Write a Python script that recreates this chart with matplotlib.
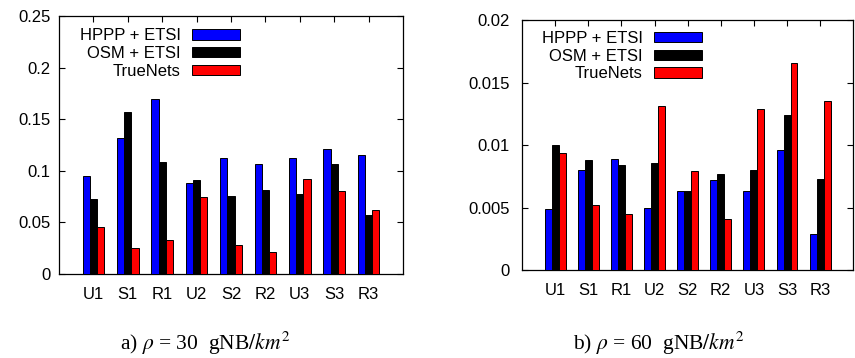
import matplotlib
matplotlib.use("Agg")
import matplotlib.pyplot as plt
import numpy as np

categories = ["U1", "S1", "R1", "U2", "S2", "R2", "U3", "S3", "R3"]
series_names = ["HPPP + ETSI", "OSM + ETSI", "TrueNets"]
colors = ["#0000ff", "#000000", "#ff0000"]

a_hppp = [0.095, 0.132, 0.170, 0.088, 0.112, 0.107, 0.112, 0.121, 0.115]
a_osm = [0.073, 0.157, 0.109, 0.091, 0.076, 0.081, 0.078, 0.107, 0.057]
a_true = [0.046, 0.025, 0.033, 0.075, 0.028, 0.021, 0.092, 0.080, 0.062]

b_hppp = [0.0049, 0.0080, 0.0089, 0.0050, 0.0063, 0.0072, 0.0063, 0.0096, 0.0029]
b_osm = [0.0100, 0.0088, 0.0084, 0.0086, 0.0063, 0.0077, 0.0080, 0.0124, 0.0073]
b_true = [0.0094, 0.0052, 0.0045, 0.0131, 0.0079, 0.0041, 0.0129, 0.0166, 0.0135]

a_yticks = [0, 0.05, 0.1, 0.15, 0.2, 0.25]
b_yticks = [0, 0.005, 0.01, 0.015, 0.02]

captions = [r"a) $\rho$ = 30  gNB$/km^2$", r"b) $\rho$ = 60  gNB$/km^2$"]

plt.rcParams['font.family'] = ['Liberation Sans', 'DejaVu Sans']
plt.rcParams['mathtext.fontset'] = 'stix'

FS = 12

fig = plt.figure(figsize=(8.55, 3.58), dpi=100)
ax1 = fig.add_axes([0.069, 0.2346, 0.4023, 0.7207])
ax2 = fig.add_axes([0.6105, 0.2458, 0.3875, 0.6983])

def draw(ax, data, yticks, ymax, legpos, ypad):
    x = np.arange(len(categories))
    w = 0.21
    for i, (vals, c, name) in enumerate(zip(data, colors, series_names)):
        ax.bar(x + (i - 1) * w, vals, w, color=c, edgecolor='black',
               linewidth=0.7, label=name, zorder=3)
    ax.set_xlim(-1, 9)
    ax.set_ylim(0, ymax)
    ax.set_xticks(x)
    ax.set_xticklabels(categories, fontsize=FS)
    ax.set_yticks(yticks)
    ax.set_yticklabels(['%g' % v for v in yticks], fontsize=FS)
    ax.tick_params(axis='y', direction='in', left=True, right=True, length=4, width=0.8, pad=ypad)
    ax.tick_params(axis='x', direction='in', bottom=False, top=True, length=4, width=0.8, pad=9)
    for s in ax.spines.values():
        s.set_linewidth(0.9)
    leg = ax.legend(loc='upper right', bbox_to_anchor=legpos, frameon=False,
                    markerfirst=False, fontsize=FS, handlelength=2.9,
                    handleheight=0.6, labelspacing=0.16, handletextpad=0.65,
                    borderaxespad=0, borderpad=0)
    for t in leg.get_texts():
        t.set_ha('right')
    return leg

draw(ax1, [a_hppp, a_osm, a_true], a_yticks, 0.25, (0.526, 0.952), 6)
draw(ax2, [b_hppp, b_osm, b_true], b_yticks, 0.02, (0.5435, 0.956), 9)

fig.text(0.240, 0.022, captions[0], ha='center', va='baseline', fontsize=15.5,
         family='Liberation Serif')
fig.text(0.771, 0.022, captions[1], ha='center', va='baseline', fontsize=15.5,
         family='Liberation Serif')

fig.savefig("out.png", dpi=100)
